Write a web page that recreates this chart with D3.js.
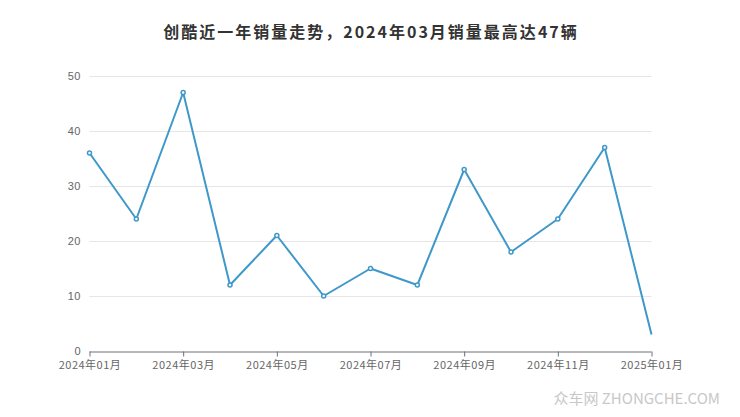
<!DOCTYPE html>
<html><head><meta charset="utf-8">
<script src="https://cdn.jsdelivr.net/npm/d3@7"></script>
<style>body{margin:0;background:#fff;}svg{display:block;font-family:"Noto Sans CJK SC","Liberation Sans",sans-serif;}</style>
</head><body>
<svg id="c" width="740" height="417"></svg>
<script>
const months = ["2024-01","2024-02","2024-03","2024-04","2024-05","2024-06","2024-07","2024-08","2024-09","2024-10","2024-11","2024-12","2025-01"];
const sales = [36,24,47,12,21,10,15,12,33,18,24,37,3];
const yTicks = [0,10,20,30,40,50];
const xTickLabels = ["2024年01月","2024年03月","2024年05月","2024年07月","2024年09月","2024年11月","2025年01月"];
const title = "创酷近一年销量走势，2024年03月销量最高达47辆";

const svg = d3.select("#c");
const x = d3.scalePoint().domain(months).range([89.5, 651.5]);
const y = d3.scaleLinear().domain([0,50]).range([351, 76]);

svg.append("text").attr("x",371).attr("y",38).attr("text-anchor","middle")
  .attr("font-size",16).attr("font-weight","bold").attr("fill","#333")
  .attr("letter-spacing","2px").text(title);

// grid
svg.append("g").selectAll("line").data(yTicks.filter(d=>d>0)).join("line")
  .attr("x1",89.5).attr("x2",651.5).attr("y1",d=>Math.round(y(d))+0.5).attr("y2",d=>Math.round(y(d))+0.5)
  .attr("stroke","#e6e6e6").attr("stroke-width",1);

// y labels
svg.append("g").selectAll("text").data(yTicks).join("text")
  .attr("x",81).attr("y",d=>y(d)+4).attr("text-anchor","end")
  .attr("font-size",11).attr("fill","#666").attr("letter-spacing","0.5px")
  .attr("font-family","Liberation Sans, sans-serif").text(d=>d);

// x axis
const tickMonths = months.filter((d,i)=>i%2===0);
const xAxis = d3.axisBottom(x).tickValues(tickMonths).tickSize(5).tickFormat((d,i)=>xTickLabels[i]);
const gx = svg.append("g").attr("transform","translate(0,351.5)").call(xAxis);
gx.select(".domain").attr("stroke","#6e7079").attr("d","M89.5,0.5H651.5");
gx.selectAll(".tick line").attr("stroke","#6e7079");
gx.selectAll(".tick text").attr("fill","#666").attr("font-size",11).attr("dy","0.85em")
  .attr("letter-spacing","0.5px").attr("font-family","Noto Sans CJK SC, sans-serif");

// line
const line = d3.line().x((d,i)=>x(months[i])).y(d=>y(d));
svg.append("path").datum(sales).attr("d",line).attr("fill","none")
  .attr("stroke","#3e98c9").attr("stroke-width",2).attr("stroke-linejoin","round");

svg.append("g").selectAll("circle").data(sales.slice(0,-1)).join("circle")
  .attr("cx",(d,i)=>x(months[i])).attr("cy",d=>y(d)).attr("r",2)
  .attr("fill","#fff").attr("stroke","#3e98c9").attr("stroke-width",1.5);

// watermark
svg.append("text").attr("x",720).attr("y",404).attr("text-anchor","end")
  .attr("font-size",15).attr("fill","#c8c8c8").attr("font-family","Noto Sans CJK SC, sans-serif").text("众车网 ZHONGCHE.COM");
</script>
</body></html>
